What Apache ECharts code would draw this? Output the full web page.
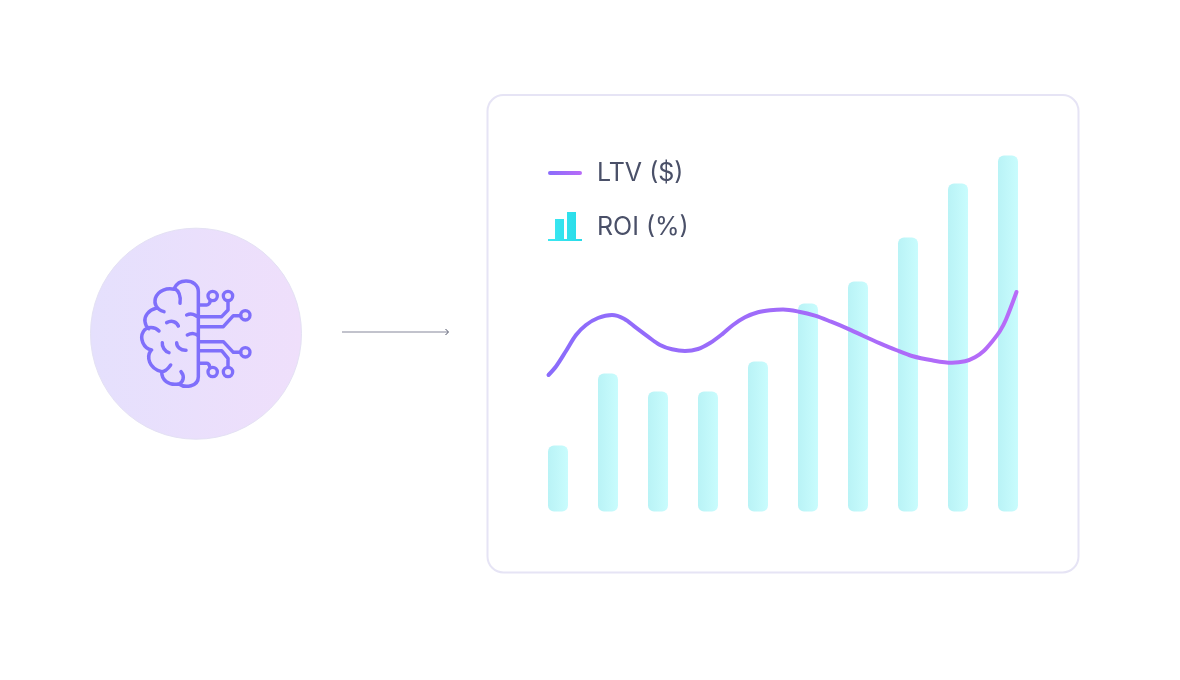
<!DOCTYPE html>
<html>
<head>
<meta charset="utf-8">
<style>html,body{margin:0;padding:0;background:#fff}#chart{width:1180px;height:680px}</style>
<script src="https://cdn.jsdelivr.net/npm/echarts@6/dist/echarts.min.js"></script>
</head>
<body>
<div id="chart"></div>
<script>
const categories = ['1','2','3','4','5','6','7','8','9','10'];
const roiValues = [66,138,120,120,150,208,230,274,328,356];
const lineX = [-0.19,-0.04,0.16,0.36,0.56,0.8,1.08,1.32,1.56,1.8,2.04,2.28,2.54,2.8,3.04,3.28,3.5,3.74,4,4.24,4.5,4.82,5.14,5.46,5.78,6.1,6.44,6.76,7.08,7.48,7.88,8.14,8.34,8.52,8.68,8.84,8.96,9.17];
const lineY = [136.5,145,160.5,176.5,186.5,193.5,196.5,192.8,183.8,174.8,166.5,162.2,160.5,162.5,168.5,177.2,186.5,194.2,199.2,201.2,202,199.8,195.8,189.8,183.2,175.8,168.2,161.5,155.5,151.2,148.8,150.2,154.2,160.8,169.8,180.5,192,219.5];

const brainPath = [
 'M355 470 L355 215 C355 195 338 183 318 183 C302 183 290 190 283 205',
 'M283 205 C295 212 303 228 300 250',
 'M283 208 C262 203 235 210 226 235 C222 250 228 268 252 275',
 'M228 265 C205 270 192 290 195 305 C196 315 200 322 207 326',
 'M237 333 C225 320 200 318 190 335 C178 355 190 385 215 390',
 'M212 392 C200 410 205 445 245 455 C255 455 265 445 272 435',
 'M245 455 C245 480 265 497 295 492',
 'M303 455 C315 470 310 485 297 492',
 'M297 492 C315 505 355 500 355 470',
 'M320 285 C335 278 345 285 355 292',
 'M260 308 C275 300 290 305 295 318',
 'M322 345 C335 338 348 340 355 348',
 'M247 368 C245 380 255 395 267 398',
 'M290 368 C290 380 302 392 318 391',
 'M355 255 H380 C388 255 390 247 392 241',
 'M355 290 H425 L444 270 V242',
 'M355 320 H430 L460 287 H482',
 'M355 365 H430 L460 397 H482',
 'M355 392 H425 L444 415 V441',
 'M355 430 H380 C388 430 388 436 390 443'
].join(' ');
const nodes = [[398,228],[444,228],[496,286],[496,397],[444,456],[398,456]];
echarts.graphic.registerShape('brainIcon', echarts.graphic.extendPath(brainPath, {}));

const chart = echarts.init(document.getElementById('chart'), null, {renderer:'canvas'});
chart.setOption({
  animation:false,
  backgroundColor:'#ffffff',
  grid:{left:533,top:111.5,width:500,height:400},
  legend:{
    orient:'vertical',left:548,top:158,padding:0,itemWidth:34,itemHeight:30,itemGap:24,selectedMode:false,
    textStyle:{fontFamily:'Inter',fontSize:25,color:'#4a5068',padding:[0,0,0,10]},
    data:[
      {name:'LTV ($)',icon:'path://M0 0L.01 0L0 .01Z M2 13H32A2 2 0 0 1 32 17H2A2 2 0 0 1 2 13Z M0 30L.01 30L0 29.99Z',
       itemStyle:{color:new echarts.graphic.LinearGradient(0,0,1,0,[{offset:0,color:'#8a6cfb'},{offset:1,color:'#b86bf8'}])}},
      {name:'ROI (%)',icon:'path://M7 7H16V27H7Z M19 0H28V27H19Z M0 27H34V29H0Z M0 30L.01 30L0 29.99Z',
       itemStyle:{color:new echarts.graphic.LinearGradient(0,0,1,0,[{offset:0,color:'#3ce8f2'},{offset:1,color:'#27dbe8'}])}}
    ]
  },
  xAxis:[
    {type:'category',data:categories,show:false},
    {type:'value',min:-0.5,max:9.5,show:false}
  ],
  yAxis:[
    {type:'value',min:0,max:400,show:false},
    {type:'value',min:0,max:400,show:false}
  ],
  series:[
    {name:'ROI (%)',type:'bar',data:roiValues,barWidth:20,xAxisIndex:0,yAxisIndex:0,z:2,
     itemStyle:{borderRadius:6,color:new echarts.graphic.LinearGradient(0,0,1,0,[{offset:0,color:'#b9f3f6'},{offset:1,color:'#c9fcfd'}])}},
    {name:'LTV ($)',type:'line',xAxisIndex:1,yAxisIndex:1,z:3,smooth:0.33,showSymbol:false,
     data:lineX.map((x,i)=>[x,lineY[i]]),
     lineStyle:{width:4,cap:'round',color:new echarts.graphic.LinearGradient(0,0,1,0,[{offset:0,color:'#8a6cfb'},{offset:1,color:'#b86bf8'}])}}
  ],
  graphic:[
    {type:'rect',z:-1,shape:{x:487.5,y:95,width:591,height:477.5,r:16},style:{fill:'#ffffff',stroke:'#e6e4f5',lineWidth:2}},
    {type:'circle',z:-1,shape:{cx:196,cy:333.7,r:105.5},style:{
      fill:new echarts.graphic.LinearGradient(0,0,1,0,[{offset:0,color:'#e5e0fd'},{offset:1,color:'#efdffb'}]),
      stroke:'#e4e1f4',lineWidth:1}},
    {type:'brainIcon',z:1,x:80,y:220,scaleX:1/3,scaleY:1/3,style:{fill:null,stroke:'#7f6ffb',lineWidth:10.5,lineCap:'round',lineJoin:'round'}},
    ...nodes.map(n=>({type:'circle',z:1,x:80,y:220,scaleX:1/3,scaleY:1/3,shape:{cx:n[0],cy:n[1],r:14},style:{fill:null,stroke:'#7f6ffb',lineWidth:10}})),
    {type:'line',z:1,shape:{x1:342,y1:332,x2:448,y2:332},style:{stroke:'#85879a',lineWidth:1}},
    {type:'polyline',z:1,shape:{points:[[445.5,329],[448.5,332],[445.5,335]]},style:{fill:null,stroke:'#4f5368',lineWidth:1}}
  ]
});
</script>
</body>
</html>
